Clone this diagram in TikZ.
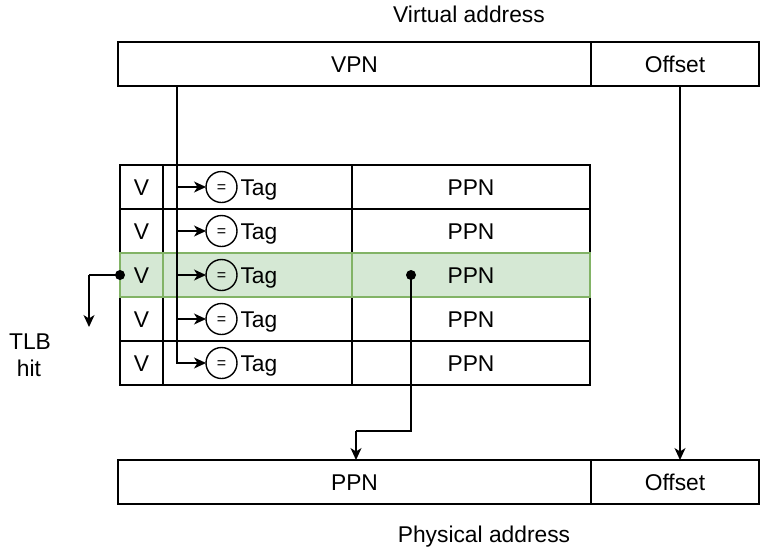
\documentclass[tikz,border=0pt]{standalone}
\usepackage{fontspec}
\setmainfont{Liberation Sans}
\usetikzlibrary{arrows.meta,calc}
\definecolor{hitfill}{HTML}{D5E8D4}
\definecolor{hitdraw}{HTML}{82B366}
\begin{document}
\begin{tikzpicture}[x=1pt,y=-1pt,
  every node/.style={font=\fontsize{22.8}{27}\selectfont, inner sep=0pt, outer sep=0pt,
     text height=16.3pt, text depth=0pt},
  cell/.style={draw=black, line width=1.4pt, rectangle, minimum height=44pt},
  hitcell/.style={draw=hitdraw, fill=hitfill, line width=1.4pt, rectangle, minimum height=44pt},
  eqc/.style={draw=black, line width=1.4pt, circle, minimum size=31pt,
     font=\fontsize{16}{18}\selectfont, text height=11.2pt},
  lbl/.style={font=\fontsize{22.8}{27}\selectfont},
  conn/.style={line width=1.4pt, -{Stealth[length=12pt,width=11pt,inset=3.5pt]}},
  plain/.style={line width=1.4pt},
  dotc/.style={circle, fill=black, minimum size=10pt, text height=0pt}
]
\useasboundingbox (0,0) rectangle (760,547);

% virtual address
\node[lbl] (valbl) at (469,14.7) {Virtual address};
\node[cell, minimum width=473pt] (vpn) at (354.5,64) {VPN};
\node[cell, minimum width=168pt] (voff) at (675,64) {Offset};

% TLB rows
\foreach \i in {0,1,3,4} {
  \pgfmathsetmacro{\ym}{187+44*\i}
  \node[cell, minimum width=43pt] (v\i) at (141.5,\ym) {V};
  \node[cell, minimum width=189pt] (t\i) at (257.5,\ym) {};
  \node[cell, minimum width=238pt] (p\i) at (471,\ym) {PPN};
}
\node[hitcell, minimum width=43pt] (v2) at (141.5,275) {V};
\node[hitcell, minimum width=189pt] (t2) at (257.5,275) {};
\node[hitcell, minimum width=238pt] (p2) at (471,275) {PPN};

\foreach \i in {0,...,4} {
  \pgfmathsetmacro{\ym}{187+44*\i}
  \node[eqc] (e\i) at (221.5,\ym) {=};
  \node[lbl, anchor=west] (tag\i) at ([xshift=3.5pt]e\i.east) {Tag};
}

% VPN line to comparators
\coordinate (vs) at (177,86);
\draw[plain] (vs) -- (177,364);
\foreach \i in {0,1,2,3} {
  \pgfmathsetmacro{\ym}{187+44*\i}
  \draw[conn] (177,\ym) -- (e\i.west);
}
\draw[conn] (vs) |- (e4.west);

% physical address
\node[cell, minimum width=473pt] (ppn) at (354.5,482) {PPN};
\node[cell, minimum width=168pt] (poff) at (675,482) {Offset};
\node[lbl] (palbl) at (484,534) {Physical address};

% PPN selection
\node[dotc] (pd) at (411,275) {};
\coordinate (pk1) at (411,431);
\coordinate (pk2) at (356,431);
\draw[plain] (pd.center) -- (pk1) -- (pk2);
\draw[conn] (pk2) -- (pk2 |- ppn.north);

% offset
\coordinate (os) at (680,86);
\draw[conn] (os) -- (os |- poff.north);

% TLB hit
\node[dotc] (hd) at (v2.west) {};
\coordinate (hk) at (89,275);
\coordinate (he) at (89,327);
\draw[plain] (hd.center) -- (hk);
\draw[conn] (hk) -- (he);
\node[lbl] (hit1) at (30,341.7) {TLB};
\node[lbl] (hit2) at (29,368.5) {hit};
\end{tikzpicture}
\end{document}
